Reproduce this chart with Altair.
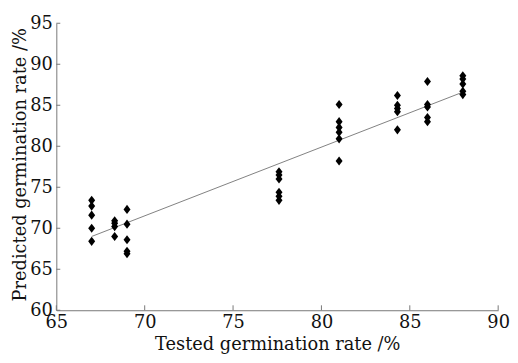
import altair as alt
import pandas as pd

tested = ([67.0] * 5 + [68.3] * 4 + [69.0] * 5 + [77.6] * 6 +
          [81.0] * 6 + [84.3] * 5 + [86.0] * 5 + [88.0] * 5)
predicted = [73.4, 72.7, 71.6, 70.0, 68.4,
             70.9, 70.6, 70.2, 69.0,
             72.3, 70.5, 68.6, 67.2, 66.9,
             76.9, 76.5, 76.0, 74.4, 73.9, 73.4,
             85.1, 83.0, 82.3, 81.7, 80.9, 78.2,
             86.2, 85.0, 84.6, 84.2, 82.0,
             87.9, 85.1, 84.8, 83.5, 83.0,
             88.6, 88.2, 87.6, 86.7, 86.3]
fit_x = [67.0, 88.0]
fit_y = [69.0, 86.6]
x_ticks = [65, 70, 75, 80, 85, 90]
y_ticks = [60, 65, 70, 75, 80, 85, 90, 95]

pts = pd.DataFrame({"tested": tested, "predicted": predicted})
fit = pd.DataFrame({"tested": fit_x, "predicted": fit_y})
xt = pd.DataFrame({"tested": x_ticks})
yt = pd.DataFrame({"predicted": y_ticks})

FONT = "DejaVu Serif"
xscale = alt.Scale(domain=[65, 90], nice=False, zero=False)
yscale = alt.Scale(domain=[60, 95], nice=False, zero=False)

X_TITLE = "Tested germination rate /%"
Y_TITLE = "Predicted germination rate /%"

line = alt.Chart(fit).mark_line(color="#808080", strokeWidth=1).encode(
    x=alt.X("tested:Q", scale=xscale, title=X_TITLE),
    y=alt.Y("predicted:Q", scale=yscale, title=Y_TITLE),
)

diamond = "M0,-1.3L1,0L0,1.3L-1,0Z"
points = alt.Chart(pts).mark_point(shape=diamond, filled=True, color="black",
                                   opacity=1, size=50).encode(
    x=alt.X("tested:Q", scale=xscale, title=X_TITLE),
    y=alt.Y("predicted:Q", scale=yscale, title=Y_TITLE),
)

xticks = alt.Chart(xt).mark_rule(color="#777", strokeWidth=1).encode(
    x=alt.X("tested:Q", scale=xscale, title=X_TITLE),
    y=alt.value(291), y2=alt.value(286),
)
yticks = alt.Chart(yt).mark_rule(color="#777", strokeWidth=1).encode(
    y=alt.Y("predicted:Q", scale=yscale, title=Y_TITLE),
    x=alt.value(0), x2=alt.value(4),
)

chart = alt.layer(line, points, xticks, yticks).properties(
    width=448, height=291,
    background="white",
    autosize=alt.AutoSizeParams(type="none"),
    padding={"left": 49, "top": 13, "right": 12, "bottom": 50},
).configure_view(
    stroke="transparent", strokeWidth=0
).configure_axis(
    grid=False, ticks=False, labelFontSize=18, titleFontSize=18,
    labelFont=FONT, titleFont=FONT, titleFontWeight="normal",
    labelColor="#111", titleColor="#111", domainColor="#777",
    labelFlush=False,
).configure_axisX(
    tickCount=5, labelPadding=3, titleY=40, titleBaseline="alphabetic",
).configure_axisY(
    tickCount=7, labelPadding=4, titleX=-36, titleY=143, titleAngle=270,
    titleBaseline="middle", titleAlign="center",
)

chart.save("out.html", embed_options={"renderer": "svg", "actions": False})
